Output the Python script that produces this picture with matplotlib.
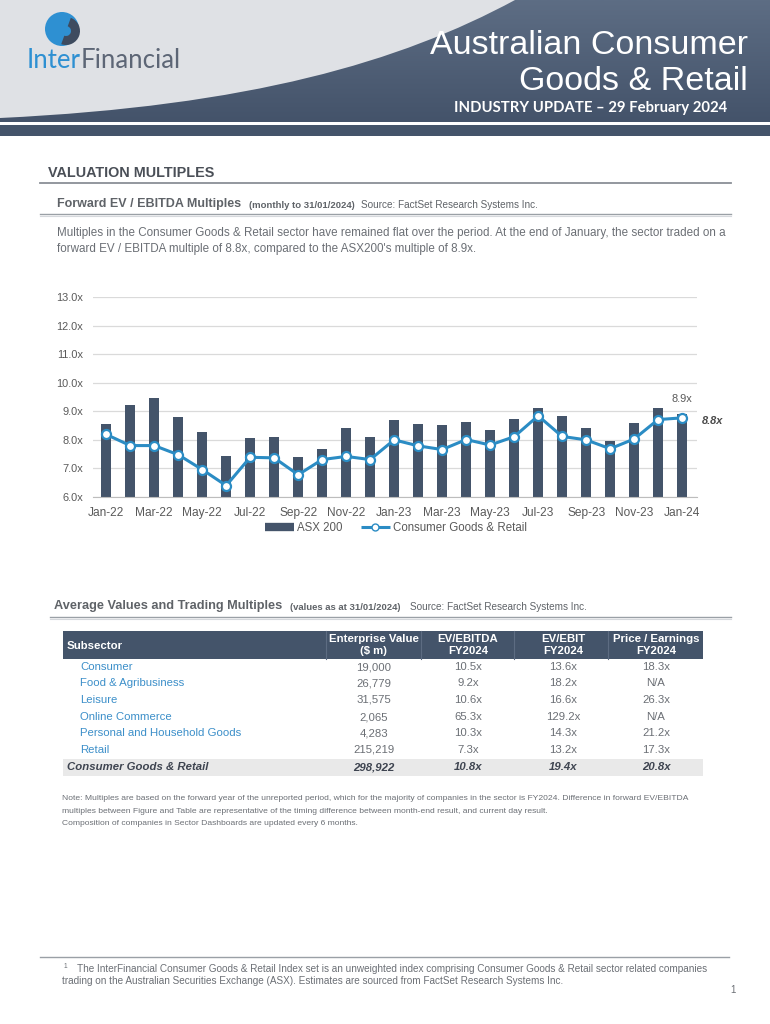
#coding:utf8

import numpy as np
import matplotlib.pyplot as plt
from matplotlib.patches import Rectangle, PathPatch, Circle, Wedge
from matplotlib.path import Path
from matplotlib.lines import Line2D
from matplotlib.colors import LinearSegmentedColormap

plt.rcParams['font.family'] = ['Liberation Sans', 'DejaVu Sans']

# Donnees du graphique (multiples EV / EBITDA mensuels)
mois = ['Jan-22', 'Feb-22', 'Mar-22', 'Apr-22', 'May-22', 'Jun-22', 'Jul-22', 'Aug-22',
        'Sep-22', 'Oct-22', 'Nov-22', 'Dec-22', 'Jan-23', 'Feb-23', 'Mar-23', 'Apr-23',
        'May-23', 'Jun-23', 'Jul-23', 'Aug-23', 'Sep-23', 'Oct-23', 'Nov-23', 'Dec-23', 'Jan-24']
asx200 = [8.57, 9.23, 9.47, 8.79, 8.26, 7.45, 8.05, 8.10, 7.39, 7.67, 8.42, 8.10, 8.68,
          8.57, 8.52, 8.63, 8.35, 8.74, 9.10, 8.85, 8.43, 7.96, 8.59, 9.10, 8.90]
conso = [8.19, 7.80, 7.80, 7.48, 6.96, 6.40, 7.39, 7.37, 6.78, 7.31, 7.42, 7.31, 8.00,
         7.79, 7.66, 8.01, 7.82, 8.11, 8.84, 8.12, 8.00, 7.69, 8.03, 8.71, 8.77]
yticks = [6, 7, 8, 9, 10, 11, 12, 13]

# Donnees du tableau
sous_secteurs = ['Consumer', 'Food & Agribusiness', 'Leisure', 'Online Commerce',
                 'Personal and Household Goods', 'Retail']
ev = ['19,000', '26,779', '31,575', '2,065', '4,283', '215,219']
ev_ebitda = ['10.5x', '9.2x', '10.6x', '65.3x', '10.3x', '7.3x']
ev_ebit = ['13.6x', '18.2x', '16.6x', '129.2x', '14.3x', '13.2x']
pe = ['18.3x', 'N/A', '26.3x', 'N/A', '21.2x', '17.3x']
total = ['Consumer Goods & Retail', '298,922', '10.8x', '19.4x', '20.8x']
entetes = ['Subsector', 'Enterprise Value\n($ m)', 'EV/EBITDA\nFY2024', 'EV/EBIT\nFY2024',
           'Price / Earnings\nFY2024']

ardoise = '#44546a'
bleu = '#2b8cc4'
gris = '#5f6368'
gris_txt = '#6b6f75'

W, H = 770, 1024
fig = plt.figure(figsize=(W / 100, H / 100), dpi=100)
fig.patch.set_facecolor('white')

# Axe de fond en pixels pour la mise en page
bg = fig.add_axes([0, 0, 1, 1])
bg.set_xlim(0, W)
bg.set_ylim(H, 0)
bg.axis('off')

# En-tete
bg.add_patch(Rectangle((0, 0), W, 122, facecolor='#dfe1e5', edgecolor='none', zorder=1))
verts = [(0, 118), (250, 106), (400, 62), (515, 0), (W, 0), (W, 122), (0, 122), (0, 118)]
codes = [Path.MOVETO, Path.CURVE4, Path.CURVE4, Path.CURVE4, Path.LINETO, Path.LINETO,
         Path.LINETO, Path.CLOSEPOLY]
forme = PathPatch(Path(verts, codes), facecolor='none', edgecolor='none', zorder=2)
bg.add_patch(forme)
degrade = np.linspace(0, 1, 100).reshape(-1, 1)
cmap = LinearSegmentedColormap.from_list('hdr', ['#5d6d84', '#44536a'])
im = bg.imshow(degrade, cmap=cmap, aspect='auto', extent=(0, W, 122, 0), origin='upper', zorder=2)
im.set_clip_path(forme)
bg.set_xlim(0, W)
bg.set_ylim(H, 0)
bg.add_patch(Rectangle((0, 125), W, 11, facecolor=ardoise, edgecolor='none', zorder=3))

# Logo
bg.add_patch(Circle((62, 29), 17, facecolor='#2e90d2', edgecolor='none', zorder=4))
bg.add_patch(Wedge((66, 31), 14, -70, 110, width=9, facecolor='#3e4b5f', edgecolor='none', zorder=5))
t_inter = bg.text(27, 60, 'Inter', color='#2e90d2', fontsize=18.5, family='Lato', va='center', zorder=5)
fig.canvas.draw()
ext = t_inter.get_window_extent()
x_fin = 27 + ext.width
bg.text(x_fin, 60, 'Financial', color='#5d6676', fontsize=18.5, family='Lato', va='center', zorder=5)

bg.text(748, 45, 'Australian Consumer', color='white', fontsize=24.5, ha='right', va='center', zorder=5)
bg.text(748, 81, 'Goods & Retail', color='white', fontsize=24.5, ha='right', va='center', zorder=5)
bg.text(727, 108, 'INDUSTRY UPDATE \u2013 29 February 2024', color='white', fontsize=10.7,
        fontweight='bold', family='Lato', ha='right', va='center', zorder=5)

# Titres de section
bg.text(48, 173, 'VALUATION MULTIPLES', color='#4a4f57', fontsize=10.4, fontweight='bold', va='center')
bg.plot([40, 731], [183, 183], color='#8a8f96', lw=1.3)
bg.text(57, 204, 'Forward EV / EBITDA Multiples', color=gris, fontsize=9, fontweight='bold', va='center')
bg.text(249, 205, '(monthly to 31/01/2024)', color=gris, fontsize=6.8, fontweight='bold', va='center')
bg.text(361, 205, 'Source: FactSet Research Systems Inc.', color=gris, fontsize=7.2, va='center')
bg.plot([40, 731], [214, 214], color='#9aa0a6', lw=1.0)
bg.plot([40, 731], [216, 216], color='#d5d8dc', lw=0.8)
bg.text(57, 233, 'Multiples in the Consumer Goods & Retail sector have remained flat over the period. '
        'At the end of January, the sector traded on a', color=gris_txt, fontsize=8.35, va='center')
bg.text(57, 249, "forward EV / EBITDA multiple of 8.8x, compared to the ASX200's multiple of 8.9x.",
        color=gris_txt, fontsize=8.35, va='center')

# Graphique
ax = fig.add_axes([93 / W, 1 - 497 / H, 604 / W, 200 / H])
x = np.arange(len(mois))
ax.bar(x, asx200, width=0.4, color=ardoise, zorder=2, label='ASX 200')
ax.plot(x, conso, color=bleu, lw=2.2, marker='o', markersize=6.5, markerfacecolor='white',
        markeredgecolor=bleu, markeredgewidth=1.6, zorder=3, label='Consumer Goods & Retail')
ax.set_xlim(-0.55, 24.62)
ax.set_ylim(6, 13)
ax.set_yticks(yticks)
ax.set_yticklabels([f'{v:.1f}x' for v in yticks])
ax.set_xticks(x[::2])
ax.set_xticklabels(mois[::2])
ax.grid(axis='y', color='#dadada', lw=0.9, zorder=0)
ax.tick_params(length=0, labelsize=7.9, colors='#5a5a5a')
ax.tick_params(axis='x', pad=7, labelsize=8.6)
ax.tick_params(axis='y', pad=7)
for s in ['top', 'right', 'left']:
    ax.spines[s].set_visible(False)
ax.spines['bottom'].set_color('#bdbdbd')
ax.annotate('8.9x', (24, asx200[-1]), xytext=(0, 9), textcoords='offset points', ha='center',
            fontsize=7.9, color='#5a5a5a')
ax.annotate('8.8x', (24, conso[-1]), xytext=(14, -2), textcoords='offset points', ha='left',
            va='center', fontsize=7.9, color='#4a4a4a', fontweight='bold', style='italic')

h1 = Line2D([], [], color=ardoise, lw=6, solid_capstyle='butt')
h2 = Line2D([], [], color=bleu, lw=2.2, marker='o', markersize=5, markerfacecolor='white',
            markeredgecolor=bleu, solid_capstyle='butt')
fig.legend([h1, h2], ['ASX 200', 'Consumer Goods & Retail'], loc='center',
           bbox_to_anchor=(396 / W, 1 - 528 / H), ncol=2, frameon=False, fontsize=8.3,
           handlelength=2.5, columnspacing=1.6, handletextpad=0.25, labelcolor='#5a5a5a')

# Tableau
bg.text(54, 606, 'Average Values and Trading Multiples', color=gris, fontsize=9.2, fontweight='bold', va='center')
bg.text(290, 607, '(values as at 31/01/2024)', color=gris, fontsize=6.8, fontweight='bold', va='center')
bg.text(410, 607, 'Source: FactSet Research Systems Inc.', color=gris, fontsize=7.2, va='center')
bg.plot([50, 731], [617, 617], color='#9aa0a6', lw=1.0)
bg.plot([50, 731], [619, 619], color='#d5d8dc', lw=0.8)

bg.add_patch(Rectangle((63, 631), 640, 28, facecolor=ardoise, edgecolor='none'))
for sx in [326, 421, 514, 608]:
    bg.plot([sx, sx], [631, 659], color='#5d6c82', lw=0.8)
cols_x = [67, 374, 468, 563, 656]
for i, t in enumerate(entetes):
    yy = 646 if i == 0 else 645.5
    bg.text(cols_x[i], yy, t, color='white', fontsize=8.2, fontweight='bold',
            ha='left' if i == 0 else 'center', va='center', linespacing=1.25)

rows_y = [667, 683, 700, 717, 733, 750]
for j, yy in enumerate(rows_y):
    bg.text(80, yy, sous_secteurs[j], color='#3c8fc9', fontsize=8.2, va='center')
    for i, v in enumerate([ev[j], ev_ebitda[j], ev_ebit[j], pe[j]]):
        bg.text(cols_x[i + 1], yy, v, color=gris_txt, fontsize=8.2, ha='center', va='center')

bg.add_patch(Rectangle((63, 759), 640, 17, facecolor='#e9e9e9', edgecolor='none'))
bg.text(67, 767, total[0], color='#3e4450', fontsize=8.2, fontweight='bold', style='italic', va='center')
for i, v in enumerate(total[1:]):
    bg.text(cols_x[i + 1], 767, v, color='#3e4450', fontsize=8.2, fontweight='bold',
            style='italic', ha='center', va='center')

# Notes
notes = ['Note: Multiples are based on the forward year of the unreported period, which for the majority '
         'of companies in the sector is FY2024. Difference in forward EV/EBITDA',
         'multiples between Figure and Table are representative of the timing difference between '
         'month-end result, and current day result.',
         'Composition of companies in Sector Dashboards are updated every 6 months.']
for k, n in enumerate(notes):
    bg.text(62, 799 + k * 12.3, n, color=gris_txt, fontsize=6.1, va='center')

# Pied de page
bg.plot([40, 729], [957, 957], color='#9aa0a6', lw=1.0)
bg.text(64, 966, '1', color=gris_txt, fontsize=4.8, va='center')
bg.text(77, 969, 'The InterFinancial Consumer Goods & Retail Index set is an unweighted index comprising '
        'Consumer Goods & Retail sector related companies', color=gris_txt, fontsize=7.2, va='center')
bg.text(62, 981, 'trading on the Australian Securities Exchange (ASX). Estimates are sourced from '
        'FactSet Research Systems Inc.', color=gris_txt, fontsize=7.2, va='center')
bg.text(733, 990, '1', color=gris_txt, fontsize=7, ha='center', va='center')

fig.savefig('out.png', dpi=100)
